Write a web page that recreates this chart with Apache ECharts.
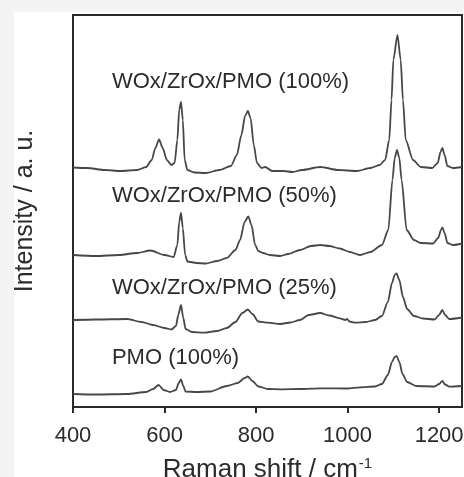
<!DOCTYPE html>
<html>
<head>
<meta charset="utf-8">
<script src="https://cdn.jsdelivr.net/npm/echarts@6/dist/echarts.min.js"></script>
<style>
  html, body { margin: 0; padding: 0; background: #f4f4f4; }
  #panel { position: absolute; left: 14px; top: 12px; right: 0; bottom: 0; background: #fff; }
  #chart { position: absolute; left: 0; top: 0; width: 464px; height: 477px; }
</style>
</head>
<body>
<div id="panel"></div>
<div id="chart"></div>
<script>
  // Raman shift (cm-1), intensity (a. u., offset traces)
  const wox100 = [
    [400, 239.5], [430, 239], [470, 237], [503, 236], [540, 237], [560, 240], [572, 247],
    [580, 259], [588, 267.5], [596, 259], [605, 247], [615, 242], [622, 244], [628, 267],
    [632, 297], [636, 305], [640, 287], [644, 247], [650, 237], [665, 234.5], [690, 234],
    [720, 237], [745, 241], [758, 252], [768, 272], [776, 291], [782, 296], [788, 289],
    [795, 262], [802, 244], [812, 239], [820, 240], [835, 236], [860, 236], [880, 235],
    [900, 237], [940, 240], [980, 237], [1020, 236], [1050, 239], [1070, 242], [1082, 247],
    [1091, 267], [1096, 307], [1100, 347], [1109, 372], [1116, 347], [1121, 307], [1127, 267],
    [1143, 247], [1160, 240], [1185, 239], [1197, 244], [1203, 255], [1207, 259], [1212, 252],
    [1218, 241], [1230, 239], [1250, 240]
  ];
  const wox50 = [
    [400, 152], [450, 151], [500, 152], [540, 154], [569, 156.5], [600, 152], [620, 150],
    [628, 162], [632, 185], [636, 194], [640, 179], [645, 152], [650, 145.5], [670, 144],
    [690, 143.5], [715, 146], [736, 149], [755, 157], [765, 167], [775, 185], [783, 190.5],
    [790, 182], [798, 162], [805, 156], [815, 154], [830, 152], [853, 151], [870, 153],
    [896, 157], [920, 161], [940, 162], [960, 161], [983, 158.5], [1005, 155], [1027, 152],
    [1050, 155], [1075, 162], [1089, 177], [1098, 227], [1103, 249], [1108, 257], [1113, 249],
    [1118, 227], [1129, 177], [1145, 167], [1160, 164], [1187, 163.5], [1198, 169], [1204, 177],
    [1207, 179.5], [1212, 174], [1218, 164], [1230, 162], [1250, 163.5]
  ];
  const wox25 = [
    [400, 87], [450, 87.5], [518, 88], [550, 85], [575, 82], [600, 79], [615, 77.5],
    [625, 81], [630, 92], [636, 102], [641, 89], [646, 78], [660, 75], [685, 74.3],
    [715, 76], [736, 79], [755, 85], [770, 94], [782, 97.5], [792, 93], [805, 85.5],
    [826, 84.3], [853, 83], [875, 84.5], [896, 87], [915, 92], [940, 94], [960, 91.5],
    [983, 88.7], [995, 87], [999, 88], [1004, 85.5], [1017, 84.3], [1040, 85], [1060, 87],
    [1075, 91], [1088, 105], [1097, 124], [1103, 132], [1107, 133.5], [1113, 127], [1121, 110],
    [1130, 98], [1145, 91], [1165, 88.5], [1190, 87.5], [1200, 92], [1207, 97], [1213, 92],
    [1222, 88], [1250, 89.5]
  ];
  const pmo100 = [
    [400, 13], [450, 12.5], [518, 13], [560, 15], [575, 18], [587, 22], [598, 17],
    [612, 15], [625, 17], [631, 24], [636, 27.5], [641, 21], [646, 15.5], [670, 15],
    [700, 15.5], [736, 21], [760, 24], [775, 29], [782, 30.5], [792, 26], [805, 20.5],
    [826, 18], [853, 17.7], [900, 18], [940, 18.7], [1000, 18.5], [1027, 19.7], [1060, 20.5],
    [1075, 23], [1088, 32], [1097, 45], [1103, 50], [1107, 51], [1113, 45], [1120, 33],
    [1130, 25], [1150, 21], [1190, 20.5], [1200, 23], [1207, 26], [1213, 22.5], [1222, 20.3],
    [1250, 21]
  ];
  const traceNames = ["WOx/ZrOx/PMO (100%)", "WOx/ZrOx/PMO (50%)", "WOx/ZrOx/PMO (25%)", "PMO (100%)"];
  const traces = [wox100, wox50, wox25, pmo100];
  // label anchor in data units: [shift, intensity]
  const labelAnchors = [[484, 325], [484, 211], [484, 119], [484, 49]];
  const xTicks = [400, 600, 800, 1000, 1200];

  const textColor = "#2b2b2b";
  const lineColor = "#474747";
  const font = "'Liberation Sans', Arial, sans-serif";

  const chart = echarts.init(document.getElementById("chart"), null, { renderer: "canvas" });

  chart.setOption({
    animation: false,
    backgroundColor: "transparent",
    grid: {
      left: 73, right: 2, top: 15, bottom: 70,
      outerBoundsMode: "none", containLabel: false,
      show: true, borderColor: "#2a2a2a", borderWidth: 2
    },
    xAxis: {
      type: "value",
      min: xTicks[0],
      max: 1250,
      interval: 200,
      name: "{a|Raman shift / cm}{s|-1}",
      nameLocation: "middle",
      nameGap: 49,
      nameTextStyle: {
        rich: {
          a: { fontSize: 26, color: textColor, fontFamily: font },
          s: { fontSize: 15, color: textColor, fontFamily: font, padding: [0, 0, 13, 1] }
        }
      },
      axisLine: { show: true, lineStyle: { color: "#2a2a2a", width: 2 } },
      axisTick: { show: true, inside: false, length: 6, lineStyle: { color: "#2a2a2a", width: 2 } },
      axisLabel: {
        color: textColor, fontSize: 22, fontFamily: font, margin: 18,
        showMaxLabel: false,
        formatter: (v) => String(v)
      },
      splitLine: { show: false }
    },
    yAxis: {
      type: "value",
      min: 0,
      max: 392,
      name: "Intensity / a. u.",
      nameLocation: "middle",
      nameGap: 35,
      nameRotate: 90,
      nameTextStyle: { fontSize: 25, color: textColor, fontFamily: font },
      axisLine: { show: true, lineStyle: { color: "#2a2a2a", width: 2 } },
      axisTick: { show: false },
      axisLabel: { show: false },
      splitLine: { show: false }
    },
    series: traces.map((data, i) => ({
      name: traceNames[i],
      type: "line",
      data,
      showSymbol: false,
      smooth: 0.25,
      smoothMonotone: "x",
      lineStyle: { color: lineColor, width: 1.8 },
      markPoint: {
        symbol: "circle",
        symbolSize: 1,
        itemStyle: { color: "rgba(0,0,0,0)" },
        data: [{
          coord: labelAnchors[i],
          label: {
            show: true,
            formatter: traceNames[i],
            position: "right",
            distance: 0,
            color: textColor,
            fontSize: 22,
            fontFamily: font
          }
        }]
      }
    }))
  });
</script>
</body>
</html>
